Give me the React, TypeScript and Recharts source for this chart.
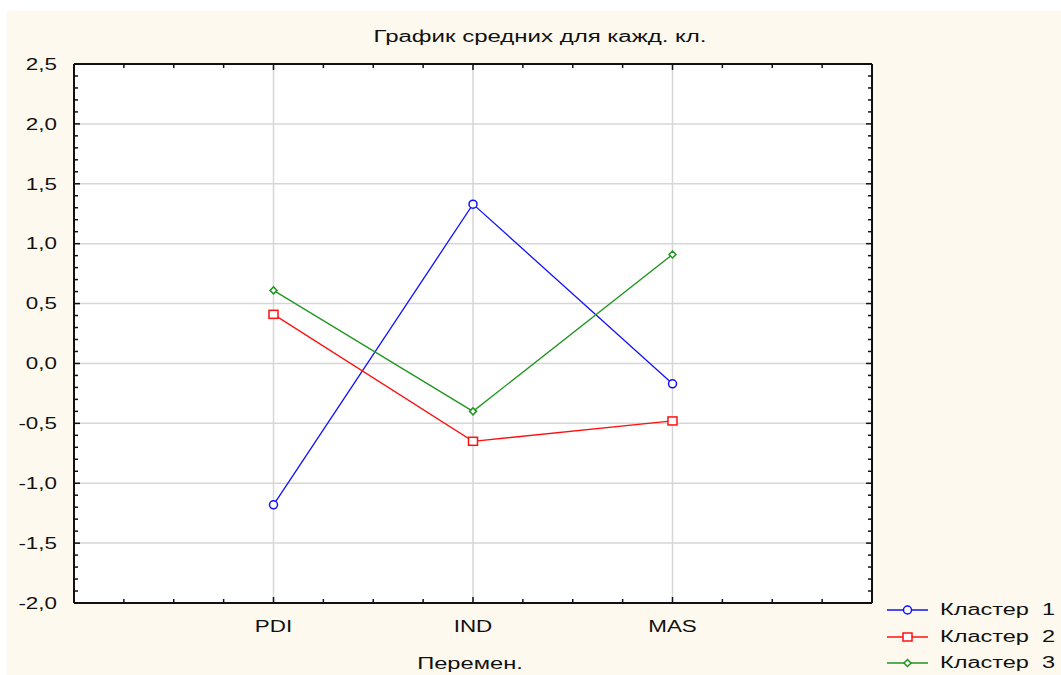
import React from 'react';
import { LineChart, Line, XAxis, YAxis, CartesianGrid } from 'recharts';

// values
const categories = ['PDI', 'IND', 'MAS'];
const cluster1 = [-1.18, 1.33, -0.17];
const cluster2 = [0.41, -0.65, -0.48];
const cluster3 = [0.61, -0.4, 0.91];
const seriesNames = ['Кластер  1', 'Кластер  2', 'Кластер  3'];
const yMajorTicks = [-2, -1.5, -1, -0.5, 0, 0.5, 1, 1.5, 2, 2.5];
const xCategoryTicks = [1, 2, 3];

const data = categories.map((name, i) => ({
  pos: i + 1,
  name,
  c1: cluster1[i],
  c2: cluster2[i],
  c3: cluster3[i],
}));

// minor tick marks: quarter steps on x, tenths on y
const xAllTicks = Array.from({ length: 15 }, (_, i) => (i + 1) * 0.25);
const yAllTicks = Array.from({ length: 46 }, (_, i) => (i - 20) / 10);

const FONT = '"Liberation Sans", Arial, sans-serif';
const STRETCH = 1.4;
const BG = '#FEF9EE';
const INK = '#111';

const isMajorY = (v: number) => yMajorTicks.some((t) => Math.abs(t - v) < 1e-6);
const isMajorX = (v: number) => xCategoryTicks.some((t) => Math.abs(t - v) < 1e-6);
const fmtY = (v: number) => v.toFixed(1).replace('.', ',');

const LeftTick = (props: any) => {
  const { x, y, payload } = props;
  const major = isMajorY(payload.value);
  return (
    <g>
      <line x1={x} x2={x + (major ? 6 : 4)} y1={y} y2={y} stroke={INK} strokeWidth={1.5} />
      {major && (
        <text
          transform={`translate(${x - 17},${y}) scale(${STRETCH},1)`}
          textAnchor="end"
          dy="0.36em"
          fontSize={16}
          fill={INK}
          fontFamily={FONT}
        >
          {fmtY(payload.value)}
        </text>
      )}
    </g>
  );
};

const RightTick = (props: any) => {
  const { x, y, payload } = props;
  const major = isMajorY(payload.value);
  return <line x1={x} x2={x - (major ? 6 : 4)} y1={y} y2={y} stroke={INK} strokeWidth={1.5} />;
};

const BottomTick = (props: any) => {
  const { x, y, payload } = props;
  const major = isMajorX(payload.value);
  return (
    <g>
      <line x1={x} x2={x} y1={y} y2={y - (major ? 6 : 4)} stroke={INK} strokeWidth={1.5} />
      {major && (
        <text
          transform={`translate(${x},${y + 23}) scale(${STRETCH},1)`}
          textAnchor="middle"
          dy="0.36em"
          fontSize={16}
          fill={INK}
          fontFamily={FONT}
        >
          {categories[Math.round(payload.value) - 1]}
        </text>
      )}
    </g>
  );
};

const TopTick = (props: any) => {
  const { x, y, payload } = props;
  const major = isMajorX(payload.value);
  return <line x1={x} x2={x} y1={y} y2={y + (major ? 6 : 4)} stroke={INK} strokeWidth={1.5} />;
};

const BLUE = '#1010FF';
const RED = '#FF1010';
const GREEN = '#1F961F';
const seriesColors = [BLUE, RED, GREEN];

const Marker = ({ kind, cx, cy, color }: { kind: number; cx: number; cy: number; color: string }) => {
  if (kind === 0) return <circle cx={cx} cy={cy} r={4} fill="#fff" stroke={color} strokeWidth={1.5} />;
  if (kind === 1) return <rect x={cx - 4.5} y={cy - 4} width={9} height={8} fill="#fff" stroke={color} strokeWidth={1.5} />;
  return (
    <path
      d={`M${cx},${cy - 3.5}L${cx + 3.5},${cy}L${cx},${cy + 3.5}L${cx - 3.5},${cy}Z`}
      fill="#fff"
      stroke={color}
      strokeWidth={1.5}
    />
  );
};

const makeDot = (kind: number) => (p: any) =>
  <Marker key={`m${kind}-${p.index}`} kind={kind} cx={p.cx} cy={p.cy} color={seriesColors[kind]} />;

const App: React.FC = () => {
  return (
    <div
      style={{
        position: 'absolute',
        left: 7,
        top: 11,
        width: 1054,
        height: 664,
        background: BG,
        fontFamily: FONT,
      }}
    >
      <div
        style={{
          position: 'absolute',
          left: 533,
          top: 26,
          transform: `translate(-50%, -50%) scaleX(1.5)`,
          fontSize: 16,
          color: INK,
          whiteSpace: 'nowrap',
        }}
      >
        График средних для кажд. кл.
      </div>

      <LineChart width={1054} height={664} data={data} margin={{ top: 52, right: 188, bottom: 32, left: 0 }}>
        <CartesianGrid xAxisId="gx" yAxisId="gy" stroke="#D6D6D6" strokeWidth={1.5} fill="#fff" fillOpacity={1} />
        <XAxis xAxisId="gx" dataKey="pos" type="number" domain={[0, 4]} ticks={xCategoryTicks} height={0} hide />
        <YAxis yAxisId="gy" dataKey="c1" type="number" domain={[-2, 2.5]} allowDataOverflow ticks={yMajorTicks} width={0} hide />

        <Line xAxisId="x" yAxisId="y" dataKey="c1" stroke={BLUE} strokeWidth={1.3} dot={makeDot(0)} isAnimationActive={false} />
        <Line xAxisId="x" yAxisId="y" dataKey="c2" stroke={RED} strokeWidth={1.3} dot={makeDot(1)} isAnimationActive={false} />
        <Line xAxisId="x" yAxisId="y" dataKey="c3" stroke={GREEN} strokeWidth={1.3} dot={makeDot(2)} isAnimationActive={false} />

        <XAxis
          xAxisId="x"
          dataKey="pos"
          type="number"
          domain={[0, 4]}
          ticks={xAllTicks}
          interval={0}
          height={40}
          tickSize={0}
          tickMargin={0}
          tickLine={false}
          axisLine={{ stroke: INK, strokeWidth: 2 }}
          tick={<BottomTick />}
        />
        <XAxis
          xAxisId="top"
          dataKey="pos"
          orientation="top"
          type="number"
          domain={[0, 4]}
          ticks={xAllTicks}
          interval={0}
          height={1}
          tickSize={0}
          tickMargin={0}
          tickLine={false}
          axisLine={{ stroke: INK, strokeWidth: 2 }}
          tick={<TopTick />}
        />
        <YAxis
          yAxisId="y"
          type="number"
          domain={[-2, 2.5]}
          allowDataOverflow
          ticks={yAllTicks}
          interval={0}
          width={67}
          tickSize={0}
          tickMargin={0}
          tickLine={false}
          axisLine={{ stroke: INK, strokeWidth: 2 }}
          tick={<LeftTick />}
        />
        <YAxis
          yAxisId="right"
          dataKey="c1"
          orientation="right"
          type="number"
          domain={[-2, 2.5]}
          allowDataOverflow
          ticks={yAllTicks}
          interval={0}
          width={1}
          tickSize={0}
          tickMargin={0}
          tickLine={false}
          axisLine={{ stroke: INK, strokeWidth: 2 }}
          tick={<RightTick />}
        />
      </LineChart>

      <div
        style={{
          position: 'absolute',
          left: 463,
          top: 653,
          transform: `translate(-50%, -50%) scaleX(1.48)`,
          fontSize: 16,
          color: INK,
          whiteSpace: 'nowrap',
        }}
      >
        Перемен.
      </div>

      <div style={{ position: 'absolute', left: 880, top: 586 }}>
        {seriesNames.map((name, i) => (
          <div key={name} style={{ display: 'flex', alignItems: 'center', height: 26.5 }}>
            <svg width={41} height={12} style={{ display: 'block' }}>
              <line x1={0} x2={41} y1={6} y2={6} stroke={seriesColors[i]} strokeWidth={1.5} />
              <Marker kind={i} cx={20.5} cy={6} color={seriesColors[i]} />
            </svg>
            <span
              style={{
                marginLeft: 12,
                fontSize: 16,
                color: INK,
                whiteSpace: 'pre',
                display: 'inline-block',
                transform: `scaleX(1.47)`,
                transformOrigin: 'left center',
              }}
            >
              {name}
            </span>
          </div>
        ))}
      </div>
    </div>
  );
};

export default App;
